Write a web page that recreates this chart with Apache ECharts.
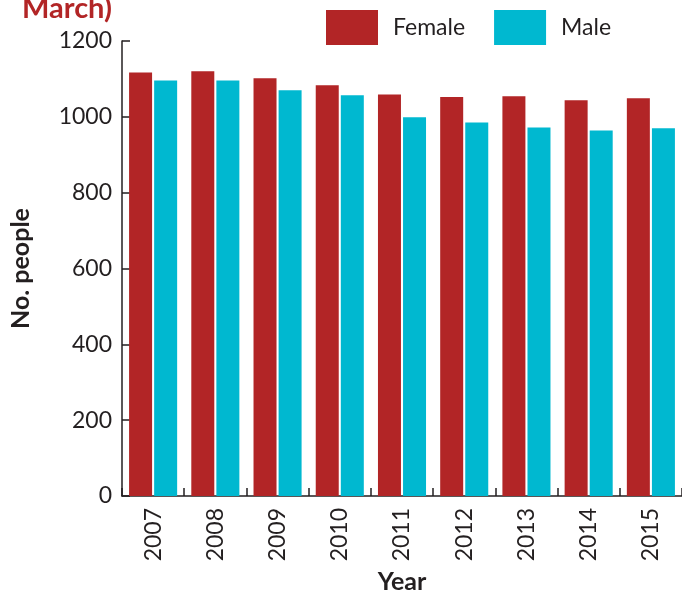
<!DOCTYPE html>
<html>
<head>
<meta charset="utf-8">
<script src="https://cdn.jsdelivr.net/npm/echarts@6/dist/echarts.min.js"></script>
<style>
  html, body { margin: 0; padding: 0; background: #fff; }
  #chart { width: 682px; height: 593px; }
</style>
</head>
<body>
<div id="chart"></div>
<script>
// data
var years = ['2007', '2008', '2009', '2010', '2011', '2012', '2013', '2014', '2015']
var female = [1117, 1120, 1102, 1083, 1059, 1052, 1054, 1044, 1049]
var male = [1096, 1096, 1070, 1057, 999, 985, 972, 964, 970]
var yTicks = [0, 200, 400, 600, 800, 1000, 1200]

var FONT = 'Lato'
var AXIS = '#231f20'

var chart = echarts.init(document.getElementById('chart'))
var option = {
  backgroundColor: '#fff',
  color: ['#b22526', '#00b8d0'],
  animation: false,
  title: {
    text: 'March)',
    left: 22,
    top: -6,
    padding: 0,
    textStyle: {
      fontFamily: FONT,
      fontSize: 29,
      fontWeight: 'bold',
      color: '#b22526'
    }
  },
  legend: {
    data: ['Female', 'Male'],
    left: 326,
    top: 10,
    padding: 0,
    icon: 'rect',
    itemWidth: 52,
    itemHeight: 35,
    itemGap: 29,
    textStyle: {
      fontFamily: FONT,
      fontSize: 23,
      color: AXIS,
      padding: [0, 0, 0, 10]
    }
  },
  grid: {
    left: 122,
    right: 0,
    top: 41,
    bottom: 97,
    containLabel: false,
    outerBoundsMode: 'none'
  },
  xAxis: {
    type: 'category',
    data: years,
    name: 'Year',
    nameLocation: 'middle',
    nameGap: 70,
    nameTextStyle: {
      fontFamily: FONT,
      fontSize: 25,
      fontWeight: 'bold',
      color: AXIS
    },
    axisLine: { lineStyle: { color: AXIS, width: 1.5 } },
    axisTick: { show: true, inside: true, length: 8, lineStyle: { color: AXIS, width: 1.5 } },
    axisLabel: {
      rotate: 90,
      margin: 12,
      fontFamily: FONT,
      fontSize: 23,
      color: AXIS
    }
  },
  yAxis: {
    type: 'value',
    min: yTicks[0],
    max: yTicks[yTicks.length - 1],
    interval: 200,
    name: 'No. people',
    nameLocation: 'middle',
    nameGap: 89,
    nameTextStyle: {
      fontFamily: FONT,
      fontSize: 25,
      fontWeight: 'bold',
      color: AXIS
    },
    splitLine: { show: false },
    axisLine: { show: true, lineStyle: { color: AXIS, width: 1.5 } },
    axisTick: { show: true, inside: true, length: 8, lineStyle: { color: AXIS, width: 1.5 } },
    axisLabel: {
      margin: 10,
      fontFamily: FONT,
      fontSize: 23,
      color: AXIS,
      formatter: function (v) { return String(v) }
    }
  },
  series: [
    {
      name: 'Female',
      type: 'bar',
      data: female,
      barWidth: 23,
      barGap: '9%'
    },
    {
      name: 'Male',
      type: 'bar',
      data: male,
      barWidth: 23,
      barGap: '9%'
    }
  ]
}
chart.setOption(option)
</script>
</body>
</html>
